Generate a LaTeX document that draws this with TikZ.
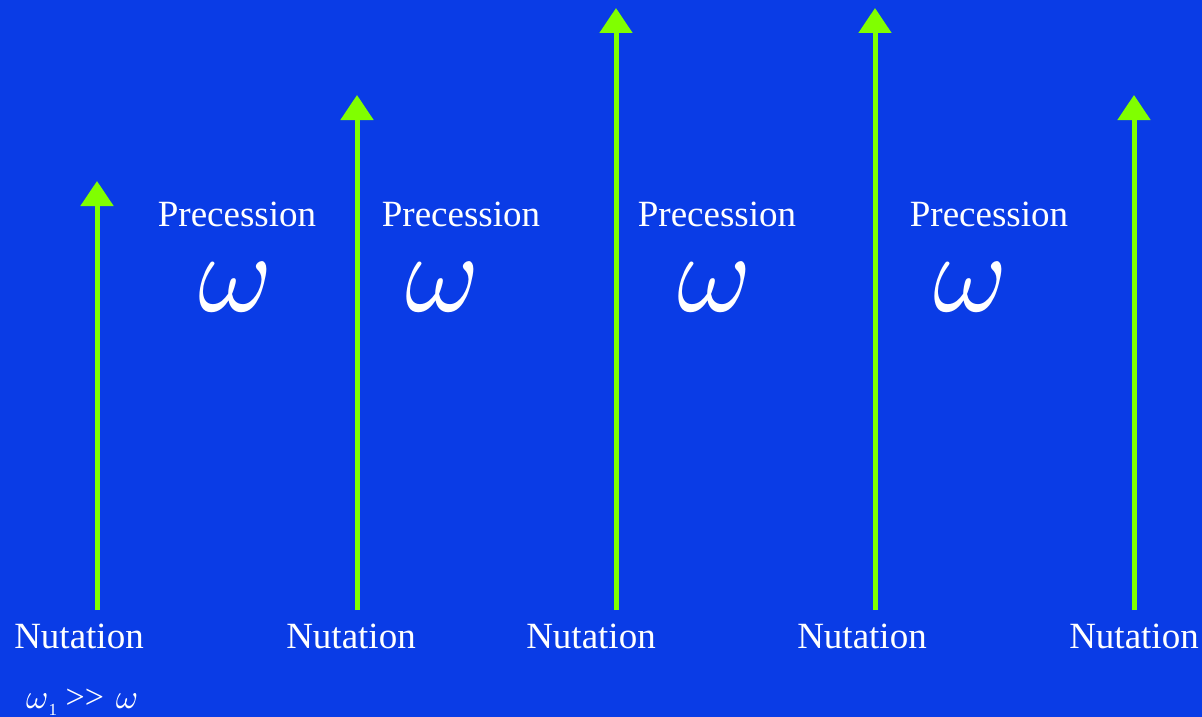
\documentclass[tikz,border=0pt]{standalone}
\usepackage{fontspec}
\usepackage{graphicx}
\setmainfont{Liberation Serif}
\usetikzlibrary{arrows.meta}
\definecolor{bgblue}{RGB}{10,60,230}
\definecolor{arrgreen}{RGB}{128,255,0}
\tikzset{
  vec/.style={draw=arrgreen, line width=5pt, -{Triangle[width=32pt,length=25pt]}},
  lbl/.style={text=white, inner sep=0pt, font=\fontsize{37}{40}\selectfont},
  om/.style={text=white, inner sep=0pt},
}
\newcommand{\bigom}{{\fontsize{10}{12}\selectfont\scalebox{11.3}{$\omega$}}}
\newcommand{\smom}{{\fontsize{10}{12}\selectfont\scalebox{3.4}{$\omega$}}}
\begin{document}
\begin{tikzpicture}[x=1pt,y=-1pt]
\fill[bgblue] (0,0) rectangle (1202,717);
\useasboundingbox (0,0) rectangle (1202,717);
% arrows
\coordinate (b1) at (97,610);  \coordinate (t1) at (97,181);
\coordinate (b2) at (357,610); \coordinate (t2) at (357,95);
\coordinate (b3) at (616,610); \coordinate (t3) at (616,8);
\coordinate (b4) at (875,610); \coordinate (t4) at (875,8);
\coordinate (b5) at (1134,610);\coordinate (t5) at (1134,95);
\foreach \i in {1,...,5} \draw[vec] (b\i) -- (t\i);
% Nutation labels
\node[lbl] (n1) at (79,636) {Nutation};
\node[lbl] (n2) at (351,636) {Nutation};
\node[lbl] (n3) at (591,636) {Nutation};
\node[lbl] (n4) at (862,636) {Nutation};
\node[lbl] (n5) at (1134,636) {Nutation};
% Precession labels
\node[lbl] (p1) at (237,214) {Precession};
\node[lbl] (p2) at (461,214) {Precession};
\node[lbl] (p3) at (717,214) {Precession};
\node[lbl] (p4) at (989,214) {Precession};
% omegas
\node[om] (w1) at (236,287) {\bigom};
\node[om] (w2) at (443,287) {\bigom};
\node[om] (w3) at (715,287) {\bigom};
\node[om] (w4) at (971,287) {\bigom};
% relation
\node[text=white, inner sep=0pt, anchor=base west, font=\fontsize{34}{34}\selectfont] (rel) at (26,708) {\smom\raisebox{-0.22em}{\fontsize{17}{17}\selectfont 1}\hspace{0.25em}{>}{>}\hspace{0.35em}\smom};
\end{tikzpicture}
\end{document}
